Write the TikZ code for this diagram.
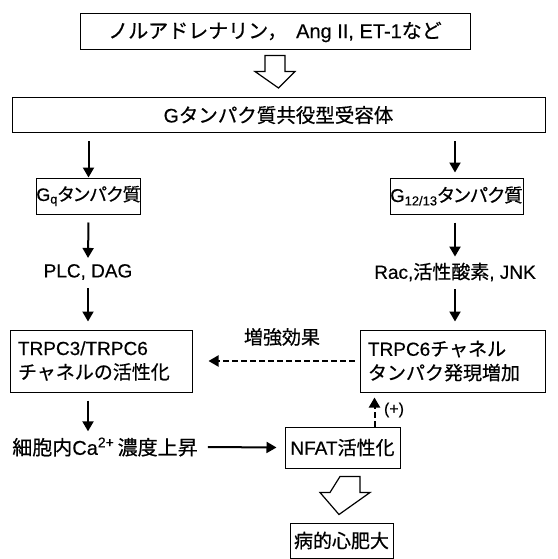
\documentclass[tikz,border=0pt]{standalone}
\usepackage{fontspec}
\setmainfont{Liberation Sans}[FakeBold=0.4]
\newfontfamily\jp{Noto Sans CJK JP}[FakeBold=0.6]
\newfontfamily\jpp{Noto Sans CJK JP}[RawFeature=+palt, FakeBold=0.6]
\usetikzlibrary{arrows.meta,calc}
\begin{document}
\begin{tikzpicture}[x=1pt,y=-1pt,
  box/.style={draw, line width=1pt, inner sep=0pt, font=\fontsize{19}{24}\selectfont},
  lbl/.style={inner sep=0pt, font=\fontsize{19}{24}\selectfont},
  arr/.style={-{Triangle[length=10pt,width=11pt]}, line width=2pt},
  darr/.style={arr, dash pattern=on 6pt off 3pt},
  hollow/.style={draw, line width=1.2pt, fill=white, line join=miter}]
\useasboundingbox (0,0) rectangle (557,559);
\node[box, minimum width=390, minimum height=36, font=\fontsize{20}{24}\selectfont] (top) at (275,32) {{\jp ノルアドレナリン，}\, Ang II, ET-1{\jp など}};
\node[box, minimum width=533, minimum height=35, font=\fontsize{19.5}{24}\selectfont] (gpcr) at (278.5,115) {G{\jp タンパク質共役型受容体}};
\node[box, minimum width=97, minimum height=36, font=\fontsize{18}{24}\selectfont] (gq) at (88.5,196) {G\textsubscript{q}{\jpp タンパク質}};
\node[box, minimum width=133, minimum height=36, font=\fontsize{18.5}{24}\selectfont] (g12) at (456.5,196) {G\textsubscript{12/13}{\jpp タンパク質}};
\node[lbl] (plc) at (88,272) {PLC, DAG};
\node[lbl] (rac) at (455,272) {Rac,{\jp 活性酸素}, JNK};
\node[box, minimum width=182, minimum height=62, text width=166, align=left] (trpc3) at (101,361) {TRPC3/TRPC6\\{\jp チャネルの活性化}};
\node[box, minimum width=185, minimum height=62, text width=169, align=left] (trpc6) at (452.5,361) {TRPC6{\jp チャネル}\\{\jp タンパク発現増加}};
\node[lbl] (zokyo) at (282,337) {\jp 増強効果};
\node[lbl, font=\fontsize{20}{24}\selectfont] (ca) at (105,447) {{\jp 細胞内}Ca\textsuperscript{2+}\,{\jp 濃度上昇}};
\node[box, minimum width=115, minimum height=41] (nfat) at (342.5,447.5) {NFAT{\jp 活性化}};
\node[lbl, font=\fontsize{16}{18}\selectfont] (plus) at (394,410) {(+)};
\node[box, minimum width=103, minimum height=35] (byo) at (341.5,540.5) {\jp 病的心肥大};
% hollow arrows
\draw[hollow] ($(top.south)+(-10,5)$) -- ++(20,0) -- ++(0,16) -- ++(10,0) -- ($(gpcr.north)+(0,-9)$) -- ($(top.south)+(-20,21)$) -- ++(10,0) -- cycle;
\draw[hollow] ($(nfat.south)+(-2.5,8)$) -- ++(20,0) -- ++(0,16) -- ++(10,0) -- ($(byo.north)+(-2.5,-8)$) -- ($(nfat.south)+(-22.5,24)$) -- ++(10,0) -- cycle;
% solid arrows
\draw[arr] (gpcr.south -| gq) ++(0,8) coordinate (a1) (a1) -- (gq.north);
\draw[arr] (gpcr.south -| g12) ++(-1.5,8) coordinate (a2) (a2) -- ($(g12.north)+(-1.5,-5)$);
\draw[arr] ($(gq.south)+(0,8)$) -- ($(plc.north)+(0,-6)$);
\draw[arr] ($(g12.south)+(-1.5,8)$) -- ($(rac.north)+(0,-6)$);
\draw[arr] ($(plc.south)+(0,8)$) -- ($(trpc3.north -| plc)+(0,-8)$);
\draw[arr] ($(rac.south)+(0,8)$) -- ($(trpc6.north -| rac)+(0,-8)$);
\draw[arr] ($(trpc3.south -| plc)+(0,8)$) -- ($(ca.north -| plc)+(0,-6)$);
\draw[arr] ($(ca.east)+(10,0)$) -- ($(nfat.west)+(-8,0)$);
\draw[darr] ($(trpc6.west)+(-5,0)$) -- ($(trpc3.east)+(16,0)$);
\draw[darr] ($(nfat.north)+(32,0)$) -- ($(trpc6.south -| nfat.north)+(32,5)$);
\end{tikzpicture}
\end{document}
